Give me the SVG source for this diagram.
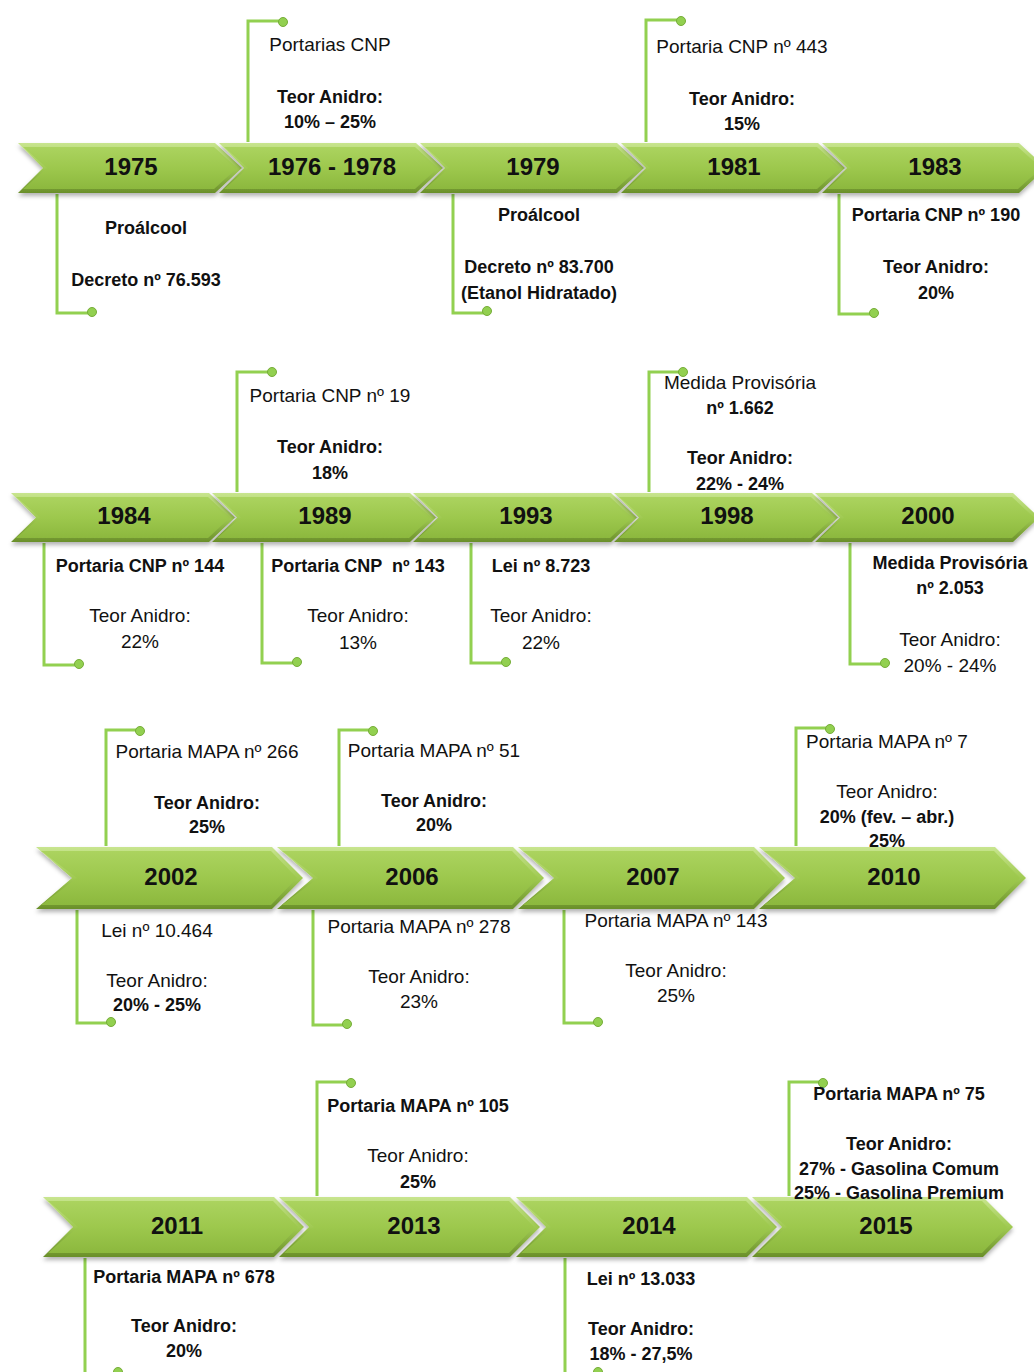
<svg xmlns="http://www.w3.org/2000/svg" width="1034" height="1372" viewBox="0 0 1034 1372">
<defs>
<linearGradient id="edge" x1="0" y1="0" x2="0" y2="1">
<stop offset="0" stop-color="#c8e58f"/>
<stop offset="0.5" stop-color="#a0ca52"/>
<stop offset="1" stop-color="#6a8f2a"/>
</linearGradient>
<linearGradient id="body" x1="0" y1="0" x2="0" y2="1">
<stop offset="0" stop-color="#abd35f"/>
<stop offset="0.5" stop-color="#9dc84d"/>
<stop offset="1" stop-color="#8cb83e"/>
</linearGradient>
<filter id="sh" x="-5%" y="-20%" width="110%" height="150%">
<feDropShadow dx="0" dy="3" stdDeviation="2" flood-color="#000" flood-opacity="0.3"/>
</filter>
<style>
.chev{fill:url(#edge);filter:url(#sh)}
.body{fill:url(#body)}
.yr{font-family:"Liberation Sans",Arial,sans-serif;font-weight:bold;font-size:24px;fill:#111;text-anchor:middle}
.t{font-family:"Liberation Sans",Arial,sans-serif;font-size:19px;fill:#111;text-anchor:middle}
.b{font-family:"Liberation Sans",Arial,sans-serif;font-weight:bold;font-size:18px;fill:#111;text-anchor:middle}
.ln{fill:none;stroke:#92d050;stroke-width:3}
.dot{fill:#92d050;stroke:#76ad38;stroke-width:1}
</style>
</defs>
<rect width="1034" height="1372" fill="#fff"/>

<g id="connectors">
<path class="ln" d="M57,194 V313 H92"/><circle class="dot" cx="92" cy="312" r="4.5"/>
<path class="ln" d="M248,142 V21 H283"/><circle class="dot" cx="283" cy="22" r="4.5"/>
<path class="ln" d="M453,194 V313 H487"/><circle class="dot" cx="487" cy="311" r="4.5"/>
<path class="ln" d="M646,142 V20 H681"/><circle class="dot" cx="681" cy="21" r="4.5"/>
<path class="ln" d="M839,194 V314 H874"/><circle class="dot" cx="874" cy="313" r="4.5"/>

<path class="ln" d="M44,543 V665 H79"/><circle class="dot" cx="79" cy="664" r="4.5"/>
<path class="ln" d="M237,492 V372 H272"/><circle class="dot" cx="272" cy="372" r="4.5"/>
<path class="ln" d="M262,543 V663 H297"/><circle class="dot" cx="297" cy="662" r="4.5"/>
<path class="ln" d="M471,543 V663 H506"/><circle class="dot" cx="506" cy="662" r="4.5"/>
<path class="ln" d="M649,492 V372 H683"/><circle class="dot" cx="683" cy="372" r="4.5"/>
<path class="ln" d="M850,543 V664 H885"/><circle class="dot" cx="885" cy="663" r="4.5"/>

<path class="ln" d="M106,846 V730 H140"/><circle class="dot" cx="140" cy="731" r="4.5"/>
<path class="ln" d="M77,910 V1023 H111"/><circle class="dot" cx="111" cy="1022" r="4.5"/>
<path class="ln" d="M339,846 V730 H373"/><circle class="dot" cx="373" cy="731" r="4.5"/>
<path class="ln" d="M313,910 V1025 H347"/><circle class="dot" cx="347" cy="1024" r="4.5"/>
<path class="ln" d="M564,910 V1023 H598"/><circle class="dot" cx="598" cy="1022" r="4.5"/>
<path class="ln" d="M796,846 V728 H830"/><circle class="dot" cx="830" cy="729" r="4.5"/>

<path class="ln" d="M85,1258 V1375 H118"/><circle class="dot" cx="118" cy="1372" r="4.5"/>
<path class="ln" d="M317,1196 V1082 H351"/><circle class="dot" cx="351" cy="1083" r="4.5"/>
<path class="ln" d="M565,1258 V1375 H598"/><circle class="dot" cx="598" cy="1372" r="4.5"/>
<path class="ln" d="M789,1196 V1082 H823"/><circle class="dot" cx="823" cy="1083" r="4.5"/>
</g>

<!-- Row 1 chevrons -->
<g id="y1975"><polygon class="chev" points="18,143 215,143 242,168 215,193 18,193 43,168"/><polygon class="body" points="23,147 214,147 237,168 214,189 23,189 47,168"/><text class="yr" x="131" y="175">1975</text></g>
<g id="y1976-1978"><polygon class="chev" points="219,143 416,143 443,168 416,193 219,193 244,168"/><polygon class="body" points="224,147 415,147 438,168 415,189 224,189 248,168"/><text class="yr" x="332" y="175">1976 - 1978</text></g>
<g id="y1979"><polygon class="chev" points="420,143 617,143 644,168 617,193 420,193 445,168"/><polygon class="body" points="425,147 616,147 639,168 616,189 425,189 449,168"/><text class="yr" x="533" y="175">1979</text></g>
<g id="y1981"><polygon class="chev" points="621,143 818,143 845,168 818,193 621,193 646,168"/><polygon class="body" points="626,147 817,147 840,168 817,189 626,189 650,168"/><text class="yr" x="734" y="175">1981</text></g>
<g id="y1983"><polygon class="chev" points="822,143 1019,143 1046,168 1019,193 822,193 847,168"/><polygon class="body" points="827,147 1018,147 1041,168 1018,189 827,189 851,168"/><text class="yr" x="935" y="175">1983</text></g>

<!-- Row 2 chevrons -->
<g id="y1984"><polygon class="chev" points="11,493 209,493 235,517.5 209,542 11,542 36,517.5"/><polygon class="body" points="16,497 208,497 230,517.5 208,538 16,538 40,517.5"/><text class="yr" x="124" y="524">1984</text></g>
<g id="y1989"><polygon class="chev" points="212,493 410,493 436,517.5 410,542 212,542 237,517.5"/><polygon class="body" points="217,497 409,497 431,517.5 409,538 217,538 241,517.5"/><text class="yr" x="325" y="524">1989</text></g>
<g id="y1993"><polygon class="chev" points="413,493 611,493 637,517.5 611,542 413,542 438,517.5"/><polygon class="body" points="418,497 610,497 632,517.5 610,538 418,538 442,517.5"/><text class="yr" x="526" y="524">1993</text></g>
<g id="y1998"><polygon class="chev" points="614,493 812,493 838,517.5 812,542 614,542 639,517.5"/><polygon class="body" points="619,497 811,497 833,517.5 811,538 619,538 643,517.5"/><text class="yr" x="727" y="524">1998</text></g>
<g id="y2000"><polygon class="chev" points="815,493 1013,493 1039,517.5 1013,542 815,542 840,517.5"/><polygon class="body" points="820,497 1012,497 1034,517.5 1012,538 820,538 844,517.5"/><text class="yr" x="928" y="524">2000</text></g>

<!-- Row 3 chevrons -->
<g id="y2002"><polygon class="chev" points="36,847 272,847 303,878 272,909 36,909 72,878"/><polygon class="body" points="41,851 271,851 297,878 271,905 41,905 77,878"/><text class="yr" x="171" y="885">2002</text></g>
<g id="y2006"><polygon class="chev" points="277,847 513,847 544,878 513,909 277,909 313,878"/><polygon class="body" points="282,851 512,851 538,878 512,905 282,905 318,878"/><text class="yr" x="412" y="885">2006</text></g>
<g id="y2007"><polygon class="chev" points="518,847 754,847 785,878 754,909 518,909 554,878"/><polygon class="body" points="523,851 753,851 779,878 753,905 523,905 559,878"/><text class="yr" x="653" y="885">2007</text></g>
<g id="y2010"><polygon class="chev" points="759,847 995,847 1026,878 995,909 759,909 795,878"/><polygon class="body" points="764,851 994,851 1020,878 994,905 764,905 800,878"/><text class="yr" x="894" y="885">2010</text></g>

<!-- Row 4 chevrons -->
<g id="y2011"><polygon class="chev" points="43,1197 274,1197 304,1227 274,1257 43,1257 73,1227"/><polygon class="body" points="48,1201 273,1201 298,1227 273,1253 48,1253 78,1227"/><text class="yr" x="177" y="1234">2011</text></g>
<g id="y2013"><polygon class="chev" points="279,1197 510,1197 540,1227 510,1257 279,1257 309,1227"/><polygon class="body" points="284,1201 509,1201 534,1227 509,1253 284,1253 314,1227"/><text class="yr" x="414" y="1234">2013</text></g>
<g id="y2014"><polygon class="chev" points="516,1197 747,1197 777,1227 747,1257 516,1257 546,1227"/><polygon class="body" points="521,1201 746,1201 771,1227 746,1253 521,1253 551,1227"/><text class="yr" x="649" y="1234">2014</text></g>
<g id="y2015"><polygon class="chev" points="752,1197 983,1197 1013,1227 983,1257 752,1257 782,1227"/><polygon class="body" points="757,1201 982,1201 1007,1227 982,1253 757,1253 787,1227"/><text class="yr" x="886" y="1234">2015</text></g>

<!-- Row 1 notes -->
<g id="n1975"><text class="b" x="146" y="234">Proálcool</text><text class="b" x="146" y="286">Decreto nº 76.593</text></g>
<g id="n1976"><text class="t" x="330" y="51">Portarias CNP</text><text class="b" x="330" y="103">Teor Anidro:</text><text class="b" x="330" y="128">10% – 25%</text></g>
<g id="n1979"><text class="b" x="539" y="221">Proálcool</text><text class="b" x="539" y="273">Decreto nº 83.700</text><text class="b" x="539" y="299">(Etanol Hidratado)</text></g>
<g id="n1981"><text class="t" x="742" y="53">Portaria CNP nº 443</text><text class="b" x="742" y="105">Teor Anidro:</text><text class="b" x="742" y="130">15%</text></g>
<g id="n1983"><text class="b" x="936" y="221">Portaria CNP nº 190</text><text class="b" x="936" y="273">Teor Anidro:</text><text class="b" x="936" y="299">20%</text></g>

<!-- Row 2 notes -->
<g id="n1984"><text class="b" x="140" y="572">Portaria CNP nº 144</text><text class="t" x="140" y="622">Teor Anidro:</text><text class="t" x="140" y="648">22%</text></g>
<g id="n1989a"><text class="t" x="330" y="402">Portaria CNP nº 19</text><text class="b" x="330" y="453">Teor Anidro:</text><text class="b" x="330" y="479">18%</text></g>
<g id="n1989b"><text class="b" x="358" y="572" xml:space="preserve">Portaria CNP  nº 143</text><text class="t" x="358" y="622">Teor Anidro:</text><text class="t" x="358" y="649">13%</text></g>
<g id="n1993"><text class="b" x="541" y="572">Lei nº 8.723</text><text class="t" x="541" y="622">Teor Anidro:</text><text class="t" x="541" y="649">22%</text></g>
<g id="n1998"><text class="t" x="740" y="389">Medida Provisória</text><text class="b" x="740" y="414">nº 1.662</text><text class="b" x="740" y="464">Teor Anidro:</text><text class="b" x="740" y="490">22% - 24%</text></g>
<g id="n2000"><text class="b" x="950" y="569">Medida Provisória</text><text class="b" x="950" y="594">nº 2.053</text><text class="t" x="950" y="646">Teor Anidro:</text><text class="t" x="950" y="672">20% - 24%</text></g>

<!-- Row 3 notes -->
<g id="n2002a"><text class="t" x="207" y="758">Portaria MAPA nº 266</text><text class="b" x="207" y="809">Teor Anidro:</text><text class="b" x="207" y="833">25%</text></g>
<g id="n2002b"><text class="t" x="157" y="937">Lei nº 10.464</text><text class="t" x="157" y="987">Teor Anidro:</text><text class="b" x="157" y="1011">20% - 25%</text></g>
<g id="n2006a"><text class="t" x="434" y="757">Portaria MAPA nº 51</text><text class="b" x="434" y="807">Teor Anidro:</text><text class="b" x="434" y="831">20%</text></g>
<g id="n2006b"><text class="t" x="419" y="933">Portaria MAPA nº 278</text><text class="t" x="419" y="983">Teor Anidro:</text><text class="t" x="419" y="1008">23%</text></g>
<g id="n2007"><text class="t" x="676" y="927">Portaria MAPA nº 143</text><text class="t" x="676" y="977">Teor Anidro:</text><text class="t" x="676" y="1002">25%</text></g>
<g id="n2010"><text class="t" x="887" y="748">Portaria MAPA nº 7</text><text class="t" x="887" y="798">Teor Anidro:</text><text class="b" x="887" y="823">20% (fev. – abr.)</text><text class="b" x="887" y="847">25%</text></g>

<!-- Row 4 notes -->
<g id="n2011"><text class="b" x="184" y="1283">Portaria MAPA nº 678</text><text class="b" x="184" y="1332">Teor Anidro:</text><text class="b" x="184" y="1357">20%</text></g>
<g id="n2013"><text class="b" x="418" y="1112">Portaria MAPA nº 105</text><text class="t" x="418" y="1162">Teor Anidro:</text><text class="b" x="418" y="1188">25%</text></g>
<g id="n2014"><text class="b" x="641" y="1285">Lei nº 13.033</text><text class="b" x="641" y="1335">Teor Anidro:</text><text class="b" x="641" y="1360">18% - 27,5%</text></g>
<g id="n2015"><text class="b" x="899" y="1100">Portaria MAPA nº 75</text><text class="b" x="899" y="1150">Teor Anidro:</text><text class="b" x="899" y="1175">27% - Gasolina Comum</text><text class="b" x="899" y="1199">25% - Gasolina Premium</text></g>
</svg>
